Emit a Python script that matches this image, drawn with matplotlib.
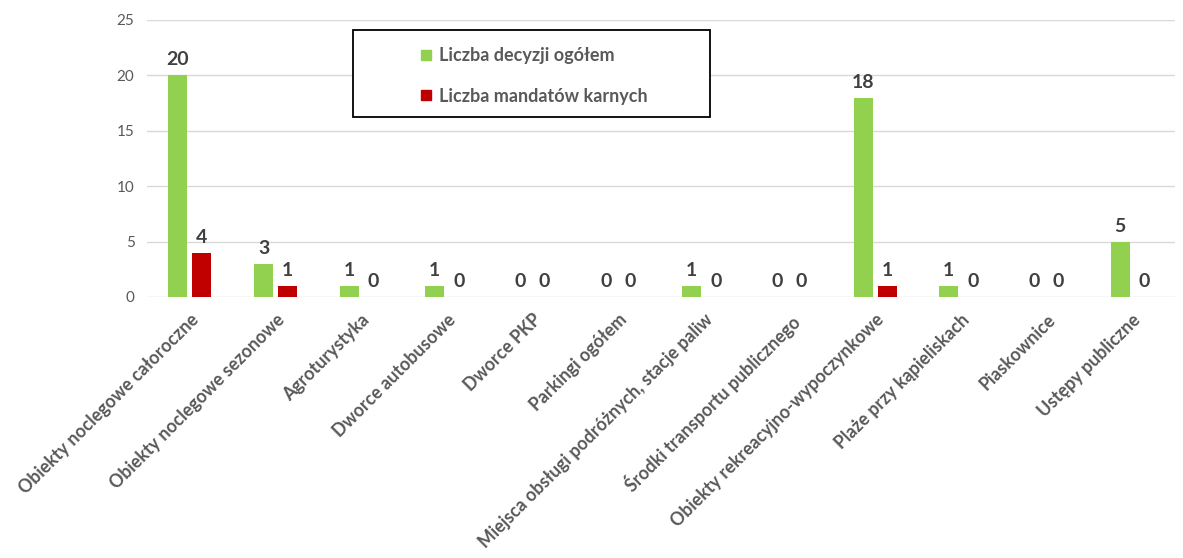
import matplotlib
matplotlib.use("Agg")
import matplotlib.pyplot as plt
import numpy as np
from matplotlib.patches import Rectangle
from matplotlib.lines import Line2D

categories = [
    "Obiekty noclegowe całoroczne",
    "Obiekty noclegowe sezonowe",
    "Agroturystyka",
    "Dworce autobusowe",
    "Dworce PKP",
    "Parkingi ogółem",
    "Miejsca obsługi podróżnych, stacje paliw",
    "Środki transportu publicznego",
    "Obiekty rekreacyjno-wypoczynkowe",
    "Plaże przy kąpieliskach",
    "Piaskownice",
    "Ustępy publiczne",
]
decyzje = [20, 3, 1, 1, 0, 0, 1, 0, 18, 1, 0, 5]
mandaty = [4, 1, 0, 0, 0, 0, 0, 0, 1, 0, 0, 0]
series_names = ["Liczba decyzji ogółem", "Liczba mandatów karnych"]
yticks = [0, 5, 10, 15, 20, 25]

GREEN = "#92D050"
RED = "#C00000"
GREY = "#595959"
DARK = "#404040"

plt.rcParams["font.family"] = ["Lato", "DejaVu Sans"]

W, H = 1183, 558
fig = plt.figure(figsize=(W / 100, H / 100), dpi=100)
ax = fig.add_axes([147 / W, 1 - 297 / H, (1175 - 147) / W, (297 - 20) / H])

x = np.arange(len(categories))
bw = 0.22
gap = 0.06
off = (bw + gap) / 2
b1 = ax.bar(x - off, decyzje, bw, color=GREEN, zorder=3)
b2 = ax.bar(x + off, mandaty, bw, color=RED, zorder=3)

for bars in (b1, b2):
    for rect in bars:
        h = rect.get_height()
        ax.annotate(f"{int(h)}", (rect.get_x() + rect.get_width() / 2, h),
                    xytext=(0, 5), textcoords="offset points",
                    ha="center", va="bottom", fontsize=14,
                    fontweight="bold", color=DARK)

ax.set_xlim(-0.5, len(categories) - 0.5)
ax.set_ylim(0, 25)
ax.set_yticks(yticks)
ax.yaxis.grid(True, color="#D9D9D9", linewidth=1, zorder=0)
ax.set_axisbelow(True)
for s in ax.spines.values():
    s.set_visible(False)
ax.tick_params(axis="both", length=0)
ax.tick_params(axis="y", labelsize=11, labelcolor=GREY, pad=9)
ax.set_xticks(x)
ax.set_xticklabels(categories, rotation=45, ha="right", rotation_mode="anchor",
                   fontsize=12.8, fontweight="bold", color=GREY)
ax.tick_params(axis="x", pad=10)

# legend box
fig.patches.append(Rectangle((353 / W, 1 - 117 / H), (710 - 353) / W, (117 - 30) / H,
                             transform=fig.transFigure, facecolor="white",
                             edgecolor="black", linewidth=1.3, zorder=5))
handles = [Line2D([], [], marker="s", linestyle="none", markersize=7,
                  markerfacecolor=c, markeredgecolor=c) for c in (GREEN, RED)]
leg = fig.legend(handles, series_names, loc="upper left",
                 bbox_to_anchor=(403 / W, 1 - 31 / H), frameon=False,
                 handlelength=0.8, handletextpad=0.3, labelspacing=1.3,
                 prop={"size": 13, "weight": "bold"})
for t in leg.get_texts():
    t.set_color(GREY)
leg.set_zorder(6)

fig.savefig("out.png", dpi=100)
